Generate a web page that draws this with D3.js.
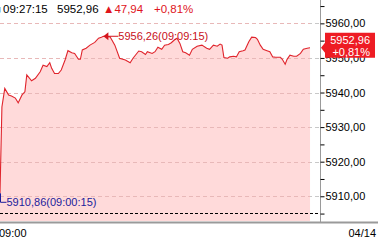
<!DOCTYPE html>
<html>
<head>
<meta charset="utf-8">
<script src="https://cdn.jsdelivr.net/npm/d3@7"></script>
<style>
  body { margin: 0; background: #fff; }
  svg { display: block; font-family: 'Liberation Sans', Arial, sans-serif; }
</style>
</head>
<body>
<div class="chart"></div>
<script>
// tick data (time, price)
const times = [
  '09:00:15', '09:00:25', '09:00:40', '09:01:00', '09:01:15', '09:01:35', '09:01:50', '09:02:10', '09:02:25', '09:02:35',
  '09:03:00', '09:03:20', '09:03:45', '09:04:00', '09:04:20', '09:04:35', '09:04:45', '09:05:00', '09:05:20', '09:05:35',
  '09:05:55', '09:06:10', '09:06:30', '09:06:45', '09:07:05', '09:07:15', '09:07:25', '09:07:45', '09:08:05', '09:08:30',
  '09:08:50', '09:09:05', '09:09:15', '09:09:50', '09:10:15', '09:10:40', '09:11:10', '09:11:35', '09:11:50', '09:12:20',
  '09:12:35', '09:12:55', '09:13:05', '09:13:30', '09:13:45', '09:14:00', '09:14:20', '09:14:35', '09:14:55', '09:15:10',
  '09:15:30', '09:15:40', '09:15:55', '09:16:10', '09:16:25', '09:16:45', '09:17:00', '09:17:25', '09:17:50', '09:18:15',
  '09:18:30', '09:18:50', '09:19:10', '09:19:25', '09:19:35', '09:19:45', '09:20:05', '09:20:15', '09:20:35', '09:20:50',
  '09:21:05', '09:21:25', '09:21:35', '09:21:55', '09:22:10', '09:22:30', '09:22:40', '09:22:55', '09:23:10', '09:23:30',
  '09:23:45', '09:24:00', '09:24:15', '09:24:40', '09:24:50', '09:25:05', '09:25:15', '09:25:30', '09:25:50', '09:26:05',
  '09:26:25', '09:26:40', '09:27:00', '09:27:15'
];
const prices = [
  5910.86, 5935.8, 5941.2, 5939.3, 5939.0, 5938.4, 5937.0, 5939.3, 5940.2, 5945.1,
  5943.4, 5944.1, 5946.0, 5947.9, 5947.5, 5948.6, 5947.0, 5945.5, 5945.5, 5946.5,
  5949.4, 5952.1, 5951.5, 5951.3, 5949.6, 5949.6, 5952.3, 5952.8, 5953.7, 5954.5,
  5955.7, 5956.0, 5956.26, 5956.1, 5953.7, 5949.9, 5949.4, 5948.6, 5949.9, 5952.0,
  5951.8, 5951.0, 5951.8, 5951.3, 5951.8, 5953.1, 5952.5, 5953.7, 5953.9, 5954.4,
  5955.4, 5955.7, 5954.2, 5951.8, 5951.5, 5950.8, 5952.5, 5953.4, 5953.7, 5952.8,
  5952.5, 5953.7, 5953.4, 5954.0, 5953.7, 5950.1, 5949.9, 5950.3, 5950.5, 5950.3,
  5951.8, 5952.1, 5952.3, 5954.7, 5956.0, 5955.9, 5955.4, 5953.7, 5952.5, 5952.1,
  5951.8, 5950.3, 5950.2, 5950.2, 5949.6, 5948.2, 5949.6, 5950.8, 5950.5, 5950.5,
  5951.3, 5952.5, 5952.8, 5952.96
];
const prevClose = 5905.02;
const yTicks = [5910, 5920, 5930, 5940, 5950, 5960];
const xLabelLeft = '09:00';
const xLabelRight = '04/14';

const svgWidth = 378;
const svgHeight = 242;
const plotRight = 320;
const plotBottom = 221;

const toSec = (t) => {
    const p = t.split(':').map(Number);
    return p[0] * 3600 + p[1] * 60 + p[2];
};
const fmt = (v) => d3.format('.2f')(v).replace('.', ',');

const data = times.map((t, i) => ({ t: t, s: toSec(t), v: prices[i] }));

const xScale = d3.scaleLinear().domain([toSec('09:00:15'), toSec('09:28:07')]).range([0, plotRight]);
const yScale = d3.scaleLinear().domain([5902.85, 5966.75]).range([plotBottom, 0]);

const svg = d3
    .select('.chart')
    .append('svg')
    .attr('width', svgWidth)
    .attr('height', svgHeight)
    .attr('viewBox', `0 0 ${svgWidth} ${svgHeight}`);

// grid lines
svg.selectAll('line.grid')
    .data(yTicks)
    .join('line')
    .attr('x1', 0)
    .attr('x2', plotRight)
    .attr('y1', (d) => Math.round(yScale(d)) + 0.5)
    .attr('y2', (d) => Math.round(yScale(d)) + 0.5)
    .attr('stroke', '#c8c8c8')
    .attr('stroke-dasharray', '4,3');

// area under line
const area = d3
    .area()
    .x((d) => xScale(d.s))
    .y0(plotBottom)
    .y1((d) => yScale(d.v));

svg.append('path').datum(data).attr('d', area).attr('fill', '#ffdada');

// redraw grid over area lightly
svg.selectAll('line.grid2')
    .data(yTicks)
    .join('line')
    .attr('x1', 0)
    .attr('x2', d3.max(data, (d) => xScale(d.s)))
    .attr('y1', (d) => Math.round(yScale(d)) + 0.5)
    .attr('y2', (d) => Math.round(yScale(d)) + 0.5)
    .attr('stroke', '#e8b8b8')
    .attr('stroke-dasharray', '4,3');

// previous close line
svg.append('line')
    .attr('x1', 0)
    .attr('x2', plotRight)
    .attr('y1', Math.round(yScale(prevClose)) + 0.5)
    .attr('y2', Math.round(yScale(prevClose)) + 0.5)
    .attr('stroke', '#000')
    .attr('stroke-dasharray', '3,2');

// price line
const line = d3
    .line()
    .x((d) => xScale(d.s))
    .y((d) => yScale(d.v));

svg.append('path')
    .datum(data)
    .attr('d', line)
    .attr('fill', 'none')
    .attr('stroke', '#e0242c')
    .attr('stroke-width', 1.1);

// axis frame
svg.append('line')
    .attr('x1', plotRight + 0.5)
    .attr('x2', plotRight + 0.5)
    .attr('y1', 0)
    .attr('y2', plotBottom + 1)
    .attr('stroke', '#9a9a9a');
svg.append('line')
    .attr('x1', 0)
    .attr('x2', svgWidth)
    .attr('y1', plotBottom + 1.5)
    .attr('y2', plotBottom + 1.5)
    .attr('stroke', '#9a9a9a')
    .attr('stroke-width', 2);

// right axis
const yAxis = d3
    .axisRight(yScale)
    .tickValues(d3.range(5905, 5966, 5))
    .tickSize(4)
    .tickFormat((d) => (d % 10 === 0 ? fmt(d) : ''));

const axisG = svg.append('g').attr('transform', `translate(${plotRight + 0.5},0)`).call(yAxis);
axisG.select('.domain').remove();
axisG.selectAll('.tick line').attr('stroke', '#000');
axisG.selectAll('.tick text').attr('x', 5).attr('font-size', 11).attr('fill', '#000').attr('font-family', 'inherit');

// x labels
svg.append('text').attr('x', -1).attr('y', 237).attr('font-size', 11).text(xLabelLeft);
svg.append('text').attr('x', 376).attr('y', 237).attr('font-size', 11).attr('text-anchor', 'end').text(xLabelRight);

// header
const last = data[data.length - 1];
const change = last.v - prevClose;
const pct = (change / prevClose) * 100;
const header = svg.append('text').attr('y', 13).attr('font-size', 11.5);
header.append('tspan').attr('x', -6).attr('fill', '#000').text('■');
header.append('tspan').attr('x', 3).attr('fill', '#000').text(last.t);
header.append('tspan').attr('x', 57).attr('fill', '#000').text(fmt(last.v));
header.append('tspan').attr('x', 103).attr('fill', '#e0141c').text('▲' + fmt(change));
header.append('tspan').attr('x', 154).attr('fill', '#e0141c').text('+' + fmt(pct) + '%');

// max annotation
const maxPt = data.reduce((a, b) => (b.v > a.v ? b : a));
const mx = xScale(maxPt.s);
const my = yScale(maxPt.v);
svg.append('path')
    .attr('d', `M${mx},${my} l5,-4 l0,8 Z`)
    .attr('fill', '#d4141c');
svg.append('line')
    .attr('x1', mx + 4)
    .attr('x2', mx + 15)
    .attr('y1', my)
    .attr('y2', my)
    .attr('stroke', '#d4141c');
svg.append('text')
    .attr('x', mx + 15)
    .attr('y', my + 4)
    .attr('font-size', 11)
    .attr('fill', '#c8101a')
    .text(`${fmt(maxPt.v)}(${maxPt.t})`);

// min annotation
const minPt = data.reduce((a, b) => (b.v < a.v ? b : a));
const nx = Math.max(xScale(minPt.s), 0.5);
const ny = yScale(minPt.v);
svg.append('path')
    .attr('d', `M${nx},${ny} L${nx},${ny + 9} L${nx + 6},${ny + 9}`)
    .attr('fill', 'none')
    .attr('stroke', '#1c1c9c');
svg.append('text')
    .attr('x', nx + 6)
    .attr('y', ny + 13)
    .attr('font-size', 11)
    .attr('fill', '#1c1c9c')
    .text(`${fmt(minPt.v)}(${minPt.t})`);

// current value tag
const ly = yScale(last.v);
const tag = svg.append('g');
tag.append('path')
    .attr('d', `M${plotRight + 1},${ly} L${plotRight + 5},${ly - 5} L${plotRight + 5},${ly - 15} L375,${ly - 15} L375,${ly + 10} L${plotRight + 5},${ly + 10} L${plotRight + 5},${ly + 5} Z`)
    .attr('fill', '#ee1c24');
tag.append('text')
    .attr('x', 370)
    .attr('y', ly - 4)
    .attr('text-anchor', 'end')
    .attr('font-size', 11)
    .attr('fill', '#fff')
    .text(fmt(last.v));
tag.append('text')
    .attr('x', 370)
    .attr('y', ly + 8)
    .attr('text-anchor', 'end')
    .attr('font-size', 11)
    .attr('fill', '#fff')
    .text('+' + fmt(pct) + '%');
</script>
</body>
</html>
